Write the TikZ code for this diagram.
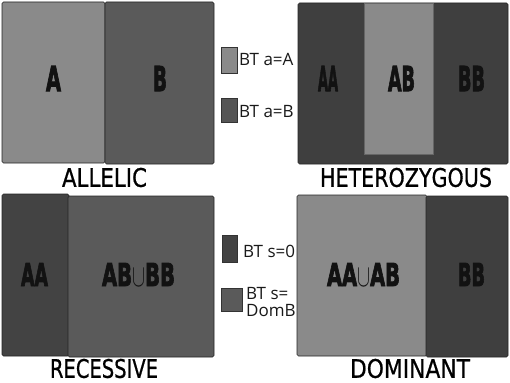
\documentclass[tikz,border=0pt]{standalone}
\usepackage{fontspec}
\usepackage{graphicx}
\setmainfont{Open Sans}
\newfontfamily\heavyfont{DejaVu Sans}[BoldFeatures={FakeBold=3}]
\newfontfamily\titlefont{DejaVu Sans}[FakeBold=0.8]
\definecolor{lightg}{HTML}{8A8A8A}
\definecolor{midg}{HTML}{5A5A5A}
\definecolor{swg}{HTML}{555555}
\definecolor{darkg}{HTML}{434343}
\definecolor{darkerg}{HTML}{3F3F3F}
\newcommand\mkfit[3]{\resizebox{#1pt}{#2pt}{#3}}
\tikzset{
  panel/.style={draw=black!85, line width=0.6pt, rounded corners=1.5pt},
  boxlabel/.style={inner sep=0pt, text=black!93, font=\heavyfont\bfseries},
  titlelabel/.style={inner sep=0pt, text=black, font=\titlefont},
  legendtext/.style={inner sep=0pt, anchor=base west, font=\fontsize{17}{17}\selectfont, text=black!90},
  swatch/.style={draw=black!80, line width=0.6pt}
}
\begin{document}
\begin{tikzpicture}[x=1pt,y=-1pt]
\useasboundingbox[fill=white] (0,0) rectangle (510,382);
% ---- ALLELIC
\fill[lightg, panel] (2,2) rectangle (105,163);
\fill[midg, panel] (105,2) rectangle (214,164);
\node[boxlabel] (lA) at (53.5,78.5) {\mkfit{15}{25}{A}};
\node[boxlabel] (lB) at (160,78.5) {\mkfit{14}{25}{B}};
\node[titlelabel] (tAll) at (104.5,177.5) {\mkfit{85}{19}{ALLELIC}};
% ---- HETEROZYGOUS
\fill[darkerg, panel] (298,3) rectangle (508,164);
\fill[lightg, draw=black!60, line width=0.5pt] (364,3) rectangle (433,154);
\node[boxlabel] (hAA) at (328,78.5) {\mkfit{20}{25}{AA}};
\node[boxlabel] (hAB) at (401.5,78.5) {\mkfit{27}{25}{AB}};
\node[boxlabel] (hBB) at (471.5,78.5) {\mkfit{27}{25}{BB}};
\node[titlelabel] (tHet) at (406,177.5) {\mkfit{172}{19}{HETEROZYGOUS}};
% ---- RECESSIVE
\fill[darkg, panel] (2,194) rectangle (69,356);
\fill[midg, panel] (68,196) rectangle (214,357);
\node[boxlabel] (rAA) at (34.5,274.5) {\mkfit{27}{23}{AA}};
\node[boxlabel] (rAB) at (138.5,274.5) {\mkfit{73}{23}{AB$\cup$BB}};
\node[titlelabel] (tRec) at (104,368.5) {\mkfit{108}{19}{RECESSIVE}};
% ---- DOMINANT
\fill[lightg, panel] (297,195) rectangle (427,356);
\fill[darkerg, panel] (426,196) rectangle (508,357);
\node[boxlabel] (dAA) at (363.5,274.5) {\mkfit{73}{23}{AA$\cup$AB}};
\node[boxlabel] (dBB) at (471.5,274.5) {\mkfit{27}{23}{BB}};
\node[titlelabel] (tDom) at (410,368.5) {\mkfit{120}{19}{DOMINANT}};
% ---- legends
\fill[lightg, swatch] (221,47) rectangle (237,73);
\fill[swg, swatch] (221,98) rectangle (237,122);
\node[legendtext] (gA) at (239,66) {BT a=A};
\node[legendtext] (gB) at (239,118) {BT a=B};
\fill[darkg, swatch] (222,235) rectangle (237,262);
\fill[midg, swatch] (221,288) rectangle (242,311);
\node[legendtext] (gS) at (243,257) {BT s=0};
\node[legendtext] (gD1) at (246,299) {BT s=};
\node[legendtext] (gD2) at (246,316) {DomB};
\end{tikzpicture}
\end{document}
